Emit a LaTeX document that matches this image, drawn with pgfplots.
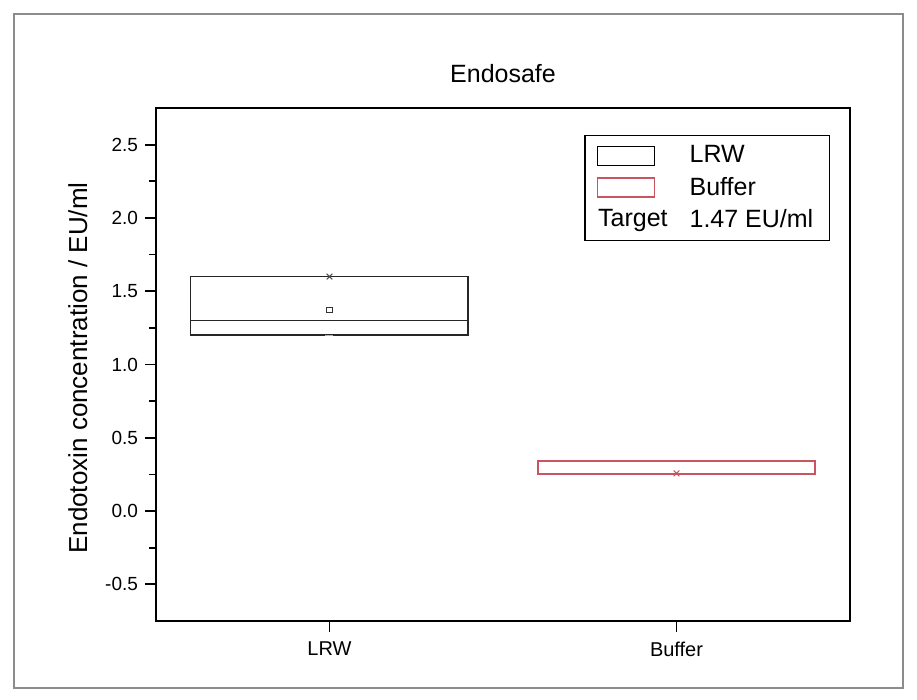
\documentclass[border=0pt]{standalone}
\usepackage{fontspec}
\setmainfont{Liberation Sans}
\usepackage{pgfplots}
\pgfplotsset{compat=1.18}
\definecolor{bufred}{RGB}{200,85,95}
\begin{document}
\begin{tikzpicture}
\useasboundingbox (0,0) rectangle (458.5pt,350pt);
\draw[line width=0.75pt, black!45] (7pt,6pt) rectangle (451.5pt,343pt);
\begin{axis}[
  at={(78pt,39.5pt)}, anchor=south west,
  scale only axis, width=347pt, height=256.5pt,
  xmin=0.5, xmax=2.5, ymin=-0.75, ymax=2.75,
  xtick={1,2}, xticklabels={LRW,Buffer},
  ytick={-0.5,0,0.5,1,1.5,2,2.5}, minor y tick num=1,
  xtick pos=bottom, ytick pos=left,
  tick align=outside,
  major tick length=5.5pt, minor tick length=3.5pt,
  axis line style={line width=1pt},
  every tick/.style={black, line width=0.9pt},
  /pgf/number format/assume math mode=true,
  yticklabel style={font=\fontsize{9.5}{11}\selectfont, /pgf/number format/.cd, fixed, fixed zerofill, precision=1},
  xticklabel style={font=\fontsize{10}{12}\selectfont, yshift=-1.5pt},
  title={Endosafe},
  title style={at={(axis description cs:0.5,1)}, anchor=center, yshift=11pt, font=\fontsize{12.5}{14}\selectfont},
  ylabel={Endotoxin concentration / EU/ml},
  ylabel style={at={(axis description cs:-0.1125,0.493)}, anchor=center, font=\fontsize{13}{15}\selectfont},
  legend style={at={(axis description cs:0.971,0.947)}, anchor=north east, draw=black, line width=0.6pt,
    font=\fontsize{12.5}{14}\selectfont, row sep=1.5pt, column sep=9pt, inner xsep=6pt, inner ysep=3pt},
  legend cell align=left,
]
% LRW box: lower quartile 1.2, median 1.3, upper quartile 1.6
\addplot[black!85, line width=0.8pt, forget plot] coordinates {(0.6,1.2) (1.4,1.2) (1.4,1.6) (0.6,1.6) (0.6,1.2)} -- cycle;
\addplot[black!85, line width=0.8pt, forget plot] coordinates {(0.6,1.3) (1.4,1.3)};
% Buffer box: 0.255 to 0.34
\addplot[bufred, line width=0.9pt, forget plot] coordinates {(1.6,0.255) (2.4,0.255) (2.4,0.34) (1.6,0.34) (1.6,0.255)} -- cycle;
% markers
\addplot[only marks, mark=x, mark size=2pt, black!70, line width=0.5pt, forget plot] coordinates {(1,1.6)};
\addplot[only marks, mark=-, mark size=2pt, black!30, line width=0.5pt, forget plot] coordinates {(1,1.2)};
\addplot[only marks, mark=square, mark size=1.3pt, black!80, line width=0.5pt, forget plot] coordinates {(1,1.37)};
\addplot[only marks, mark=x, mark size=2pt, bufred, line width=0.5pt, forget plot] coordinates {(2,0.257)};
\addlegendimage{legend image code/.code={\draw[black, line width=0.6pt] (0pt,-4.75pt) rectangle (28.5pt,4.75pt);}}
\addlegendentry{LRW}
\addlegendimage{legend image code/.code={\draw[bufred, line width=0.6pt] (0pt,-4.75pt) rectangle (28.5pt,4.75pt);}}
\addlegendentry{Buffer}
\addlegendimage{legend image code/.code={\node[anchor=west, inner sep=0pt, font=\fontsize{12.5}{14}\selectfont] at (0pt,0pt) {Target};}}
\addlegendentry{1.47 EU/ml}
\end{axis}
\end{tikzpicture}
\end{document}
